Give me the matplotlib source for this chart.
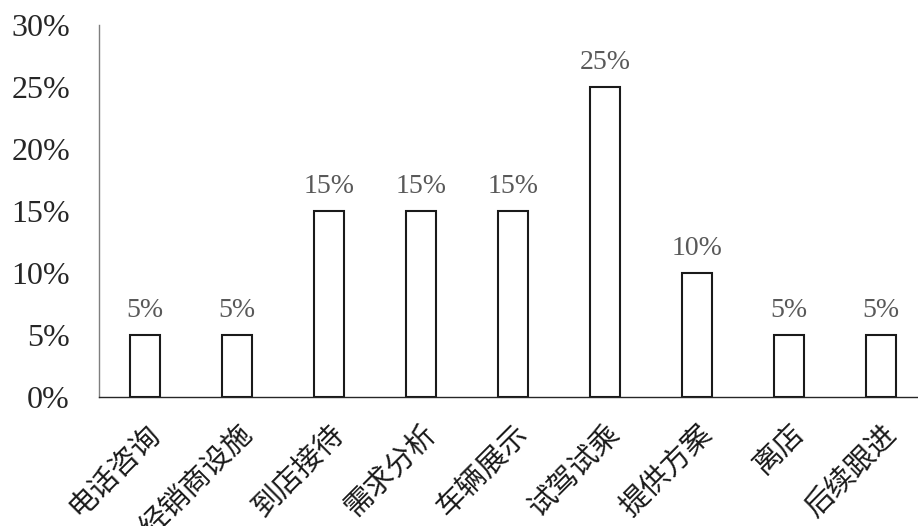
import matplotlib
matplotlib.use("Agg")
from matplotlib import pyplot as plt
from matplotlib.ticker import PercentFormatter

# 各环节占比
stages = ["电话咨询", "经销商设施", "到店接待", "需求分析", "车辆展示",
          "试驾试乘", "提供方案", "离店", "后续跟进"]
shares = [5, 5, 15, 15, 15, 25, 10, 5, 5]
yticks = [0, 5, 10, 15, 20, 25, 30]

serif = ["Liberation Serif", "DejaVu Serif"]
cjk = ["Noto Sans CJK SC", "DejaVu Sans"]

fig = plt.figure(figsize=(9.18, 5.26), dpi=100)
ax = fig.add_axes([0.108, 0.245, 0.892, 0.7075])

x = list(range(len(stages)))
bars = ax.bar(x, shares, width=0.33, facecolor="white",
              edgecolor="#1a1a1a", linewidth=1.5, zorder=3)

for b, v in zip(bars, shares):
    ax.text(b.get_x() + b.get_width() / 2, v + 1.0, f"{v}%",
            ha="center", va="bottom", fontsize=20, color="#595959",
            family=serif)

ax.set_xlim(-0.5, 8.4)
ax.set_ylim(0, 30)
ax.set_yticks(yticks)
ax.yaxis.set_major_formatter(PercentFormatter(decimals=0))
for lab in ax.get_yticklabels():
    lab.set_family(serif)
    lab.set_fontsize(23)
    lab.set_color("#262626")

ax.set_xticks(x)
ax.set_xticklabels(stages, rotation=45, ha="right", rotation_mode="anchor",
                   family=cjk, fontsize=21, fontweight="light",
                   color="#1a1a1a")
ax.tick_params(axis="both", length=0)
ax.tick_params(axis="x", pad=16)
ax.tick_params(axis="y", pad=21)

for s in ("top", "right"):
    ax.spines[s].set_visible(False)
ax.spines["left"].set_color("#7f7f7f")
ax.spines["left"].set_linewidth(1.0)
ax.spines["bottom"].set_color("#262626")
ax.spines["bottom"].set_linewidth(1.0)

fig.savefig("out.png", dpi=100, facecolor="white")
